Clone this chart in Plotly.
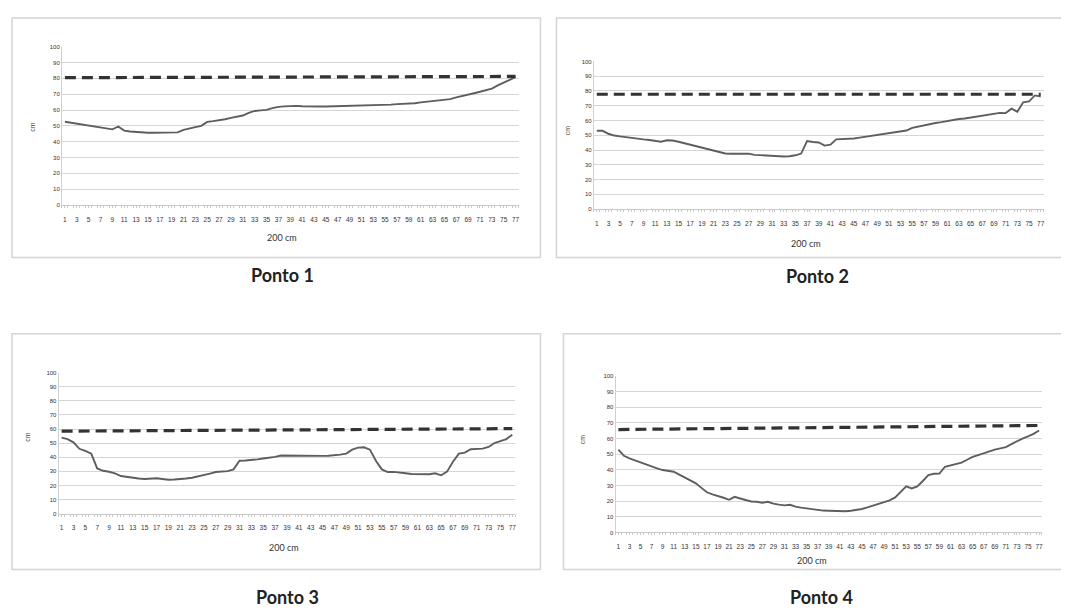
import plotly.graph_objects as go

W, H = 1069, 612
OFF = 8  # browser body margin
FW, FH = W - OFF, H - OFF

# ---------------- data ----------------
categorias = list(range(1, 78))

ponto1 = [52.6, 52.0, 51.5, 51.0, 50.5, 50.0, 49.3, 48.7, 47.8, 49.6,
          47.0, 46.4, 46.0, 45.8, 45.6, 45.6, 45.7, 45.9, 46.2, 45.9,
          47.5, 48.5, 49.2, 50.0, 52.5, 53.0, 53.4, 54.2, 55.0, 55.8,
          56.5, 58.2, 59.4, 59.8, 60.1, 61.2, 62.0, 62.3, 62.5, 62.6,
          62.4, 62.2, 62.1, 62.2, 62.2, 62.3, 62.3, 62.5, 62.6, 62.5,
          62.7, 62.8, 63.0, 63.0, 63.1, 63.4, 63.7, 63.8, 63.9, 64.3,
          64.8, 65.2, 65.6, 66.1, 66.5, 66.9, 68.0, 69.0, 69.6, 70.6,
          71.5, 72.3, 73.5, 75.5, 77.5, 79.0, 80.8]

ponto2 = [53.0, 53.0, 51.0, 49.8, 49.2, 48.6, 48.1, 47.6, 47.2, 46.8,
          46.3, 45.6, 46.6, 46.4, 45.6, 44.6, 43.3, 42.4, 41.3, 40.8,
          39.8, 38.7, 37.6, 37.5, 37.6, 37.3, 37.5, 36.7, 36.5, 36.0,
          35.6, 35.5, 35.6, 35.8, 36.4, 37.6, 46.0, 45.4, 45.1, 43.0,
          43.6, 47.2, 47.4, 47.3, 47.8, 48.4, 49.0, 49.9, 50.4, 51.2,
          51.7, 52.1, 52.6, 53.2, 55.0, 55.9, 56.6, 57.4, 58.3, 58.9,
          59.7, 60.3, 61.0, 61.4, 62.0, 62.6, 63.5, 63.9, 64.7, 65.2,
          65.0, 68.0, 66.0, 72.3, 73.0, 77.0, 76.3]

ponto3 = [53.9, 52.9, 50.6, 46.0, 44.5, 42.6, 32.1, 30.4, 29.7, 28.6,
          26.7, 26.0, 25.3, 24.9, 24.6, 24.8, 25.1, 24.6, 24.1, 24.2,
          24.4, 24.9, 25.5, 26.3, 27.2, 28.4, 29.5, 29.8, 30.2, 31.4,
          37.5, 37.7, 37.9, 38.5, 39.1, 39.6, 40.3, 41.2, 41.1, 41.0,
          40.9, 41.0, 41.0, 40.9, 41.0, 41.1, 41.4, 41.9, 42.6, 45.4,
          46.8, 47.1, 45.4, 37.5, 31.4, 29.5, 29.6, 29.3, 28.7, 28.1,
          28.0, 27.9, 28.0, 28.6, 27.2, 29.8, 36.8, 42.6, 43.3, 45.7,
          46.0, 46.1, 47.3, 50.1, 51.5, 52.9, 56.0]

ponto4 = [53.0, 49.0, 47.3, 46.0, 44.5, 43.5, 42.4, 41.0, 39.9, 39.5,
          38.8, 37.0, 35.0, 33.3, 31.4, 28.5, 25.7, 24.3, 23.4, 22.2,
          20.9, 22.8, 21.7, 20.6, 19.8, 19.6, 19.0, 19.6, 18.4, 17.8,
          17.3, 17.7, 16.5, 15.9, 15.4, 14.7, 14.1, 14.0, 13.9, 13.7,
          13.5, 13.6, 13.9, 14.4, 15.0, 16.0, 17.1, 18.0, 19.0, 20.5,
          22.4, 26.2, 29.5, 28.1, 29.5, 32.9, 36.7, 37.5, 37.6, 42.0,
          43.0, 43.5, 44.7, 46.5, 48.3, 49.5, 50.8, 52.0, 53.0, 53.8,
          54.6, 56.5, 58.4, 60.0, 61.4, 63.0, 65.2]

nivel_x = [1, 77]
nivel1 = [80.4, 81.2]
nivel2 = [77.8, 77.8]
nivel3 = [58.5, 60.3]
nivel4 = [65.8, 68.4]

titulos = ["Ponto 1", "Ponto 2", "Ponto 3", "Ponto 4"]
y_ticks = [0, 10, 20, 30, 40, 50, 60, 70, 80, 90, 100]
x_titulo = "200 cm"
y_titulo = "cm"

series = [ponto1, ponto2, ponto3, ponto4]
niveis = [nivel1, nivel2, nivel3, nivel4]

# ---------------- layout geometry (page pixels) ----------------
panels = [
    dict(x0=62, x1=519, ytop=44, ybot=204, box=(12, 15, 541, 257),
         cm=(33, 125), xt=(282, 237), cap=(283, 275)),
    dict(x0=594.4, x1=1044.6, ytop=59, ybot=208, box=(557, 15, 1063, 257),
         cm=(568, 128), xt=(807, 243), cap=(818, 276)),
    dict(x0=58.7, x1=515.7, ytop=373.3, ybot=515.7, box=(12, 334, 541, 572),
         cm=(28, 438), xt=(284, 550), cap=(288, 600)),
    dict(x0=616.2, x1=1042.8, ytop=376.7, ybot=534.7, box=(564, 334, 1065, 572),
         cm=(583, 440), xt=(813, 563), cap=(822, 600)),
]


def px(x):
    return (x - OFF) / FW


def py(y):
    return 1 - (y - OFF) / FH


fig = go.Figure()
shapes = []
annotations = []

for i, (p, s, nv, t) in enumerate(zip(panels, series, niveis, titulos)):
    n = i + 1
    xa = "x" if n == 1 else f"x{n}"
    ya = "y" if n == 1 else f"y{n}"
    fig.add_trace(go.Scatter(
        x=categorias, y=s, mode="lines", xaxis=xa, yaxis=ya,
        line=dict(color="#5e5e5e", width=1.9), showlegend=False, hoverinfo="skip"))
    fig.add_trace(go.Scatter(
        x=nivel_x, y=nv, mode="lines", xaxis=xa, yaxis=ya,
        line=dict(color="#333333", width=3.2, dash="11px,6px"),
        showlegend=False, hoverinfo="skip"))

    xkey = "xaxis" if n == 1 else f"xaxis{n}"
    ykey = "yaxis" if n == 1 else f"yaxis{n}"
    fig.update_layout(**{
        xkey: dict(
            domain=[px(p["x0"]), px(p["x1"])], anchor=ya,
            range=[0.5, 77.5], tickmode="linear", tick0=1, dtick=2,
            showgrid=False, zeroline=False, showline=True,
            linecolor="#c8c8c8", linewidth=1,
            ticks="outside", ticklen=2, tickcolor="#c8c8c8",
            minor=dict(ticks="outside", ticklen=2, tickcolor="#c8c8c8",
                       dtick=1, tick0=0.5, showgrid=False),
            tickfont=dict(family="Liberation Sans", size=6.5, color="#333"),
            ticklabelstandoff=6, tickangle=0, fixedrange=True),
        ykey: dict(
            domain=[py(p["ybot"]), py(p["ytop"])], anchor=xa,
            range=[0, 100], tickvals=y_ticks,
            showgrid=True, gridcolor="#d6d6d6", gridwidth=1,
            zeroline=False, showline=True, linecolor="#d0d0d0", linewidth=1,
            ticks="", tickfont=dict(family="Liberation Sans", size=6, color="#333"),
            fixedrange=True),
    })

    bx0, by0, bx1, by1 = p["box"]
    shapes.append(dict(type="rect", xref="paper", yref="paper",
                       x0=px(bx0), x1=px(bx1), y0=py(by1), y1=py(by0),
                       line=dict(color="#d4d4d4", width=1.5), layer="below"))

    annotations.append(dict(text=y_titulo, x=px(p["cm"][0]), y=py(p["cm"][1]),
                            xref="paper", yref="paper", showarrow=False, textangle=-90,
                            font=dict(family="Liberation Sans", size=7, color="#444"),
                            xanchor="center", yanchor="middle"))
    annotations.append(dict(text=x_titulo, x=px(p["xt"][0]), y=py(p["xt"][1]),
                            xref="paper", yref="paper", showarrow=False,
                            font=dict(family="Lato", size=9, color="#333"),
                            xanchor="center", yanchor="middle"))
    annotations.append(dict(text="<b>" + t + "</b>", x=px(p["cap"][0]), y=py(p["cap"][1]),
                            xref="paper", yref="paper", showarrow=False,
                            font=dict(family="Lato", size=18, color="#222"),
                            xanchor="center", yanchor="middle"))

fig.update_layout(
    width=FW, height=FH, margin=dict(l=0, r=0, t=0, b=0),
    paper_bgcolor="white", plot_bgcolor="white",
    shapes=shapes, annotations=annotations, showlegend=False,
)

fig.write_html("out.html", config={"displayModeBar": False})
